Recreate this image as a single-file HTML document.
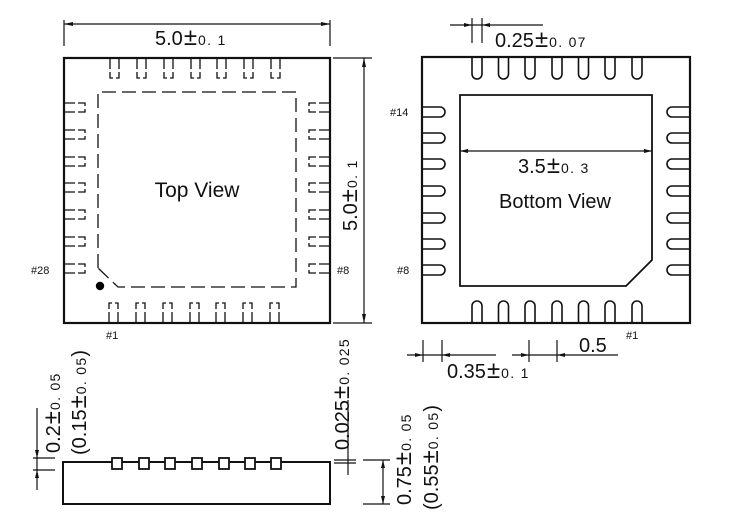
<!DOCTYPE html>
<html><head><meta charset="utf-8"><style>
html,body{margin:0;padding:0;background:#fff;}
svg{display:block;}
text{font-family:"Liberation Sans",sans-serif;fill:#111;}
.pm{font-size:24px;}
.s{font-size:14px;letter-spacing:1.3px;}
</style></head><body>
<svg width="750" height="521" viewBox="0 0 750 521" xmlns="http://www.w3.org/2000/svg">
<defs>
<g id="tpad"><path d="M0,0 V10 M9,0 V10 M0,13 V19 H3 M9,13 V19 H6" fill="none" stroke="#111" stroke-width="1.3"/></g>
<g id="bpad"><path d="M0,19 V9 M9,19 V9 M0,6 V0 H3 M9,6 V0 H6" fill="none" stroke="#111" stroke-width="1.3"/></g>
<g id="lpad"><path d="M0,0 H10 M0,9 H10 M13,0 H20 V3 M13,9 H20 V6" fill="none" stroke="#111" stroke-width="1.3"/></g>
<g id="rpad"><path d="M20,0 H10 M20,9 H10 M7,0 H0 V3 M7,9 H0 V6" fill="none" stroke="#111" stroke-width="1.3"/></g>
<path id="uT" d="M-5,0 V16 A5,5 0 0 0 5,16 V0" fill="none" stroke="#111" stroke-width="1.6"/>
<path id="uB" d="M-5,0 V-16 A5,5 0 0 1 5,-16 V0" fill="none" stroke="#111" stroke-width="1.6"/>
<path id="uL" d="M0,-5 H17 A5,5 0 0 1 17,5 H0" fill="none" stroke="#111" stroke-width="1.6"/>
<path id="uR" d="M0,-5 H-17 A5,5 0 0 0 -17,5 H0" fill="none" stroke="#111" stroke-width="1.6"/>
</defs>

<!-- TOP VIEW -->
<rect x="64" y="58" width="266" height="265" fill="none" stroke="#111" stroke-width="2.2"/>
<g>
<use href="#tpad" x="110" y="59"/><use href="#tpad" x="137" y="59"/><use href="#tpad" x="164" y="59"/><use href="#tpad" x="191" y="59"/><use href="#tpad" x="217" y="59"/><use href="#tpad" x="244" y="59"/><use href="#tpad" x="271" y="59"/>
<use href="#bpad" x="109" y="303"/><use href="#bpad" x="136" y="303"/><use href="#bpad" x="163" y="303"/><use href="#bpad" x="190" y="303"/><use href="#bpad" x="216" y="303"/><use href="#bpad" x="243" y="303"/><use href="#bpad" x="270" y="303"/>
<use href="#lpad" x="65" y="103"/><use href="#lpad" x="65" y="130"/><use href="#lpad" x="65" y="157"/><use href="#lpad" x="65" y="183"/><use href="#lpad" x="65" y="210"/><use href="#lpad" x="65" y="237"/><use href="#lpad" x="65" y="264"/>
<use href="#rpad" x="309" y="103"/><use href="#rpad" x="309" y="130"/><use href="#rpad" x="309" y="157"/><use href="#rpad" x="309" y="183"/><use href="#rpad" x="309" y="210"/><use href="#rpad" x="309" y="237"/><use href="#rpad" x="309" y="264"/>
</g>
<path d="M98,268 V92 H296 V287 H118 L98,268" fill="none" stroke="#111" stroke-width="1.3" stroke-dasharray="14,6"/>
<circle cx="100" cy="286" r="4.2" fill="#000"/>
<text x="197" y="197" font-size="21" text-anchor="middle">Top View</text>
<text x="31" y="274" font-size="11">#28</text>
<text x="337" y="274" font-size="11">#8</text>
<text x="106" y="339" font-size="11">#1</text>
<!-- top dim -->
<path d="M64,20 V46 M330,20 V46 M64,24 H330" stroke="#111" stroke-width="1.2" fill="none"/>
<path d="M64,24 l9,-2 v4z M330,24 l-9,-2 v4z" fill="#111"/>
<text x="155" y="45" font-size="20">5.0<tspan class="pm" dx="1">±</tspan><tspan class="s" dx="1">0. 1</tspan></text>
<!-- right dim -->
<path d="M333,58 H372 M333,323 H372 M364,58 V323" stroke="#111" stroke-width="1.2" fill="none"/>
<path d="M364,58 l-2,9 h4z M364,323 l-2,-9 h4z" fill="#111"/>
<text transform="translate(357,231) rotate(-90)" font-size="20">5.0<tspan class="pm" dx="1">±</tspan><tspan class="s" dx="1">0. 1</tspan></text>

<!-- BOTTOM VIEW -->
<rect x="422" y="57" width="268" height="266" fill="none" stroke="#111" stroke-width="2.2"/>
<path d="M460,95 H652 V260 L626,286 H460 Z" fill="none" stroke="#111" stroke-width="1.8"/>
<path d="M460,151 H652" stroke="#111" stroke-width="1.2"/>
<path d="M460,151 l8,-2 v4z M652,151 l-8,-2 v4z" fill="#111"/>
<text x="518" y="173" font-size="20">3.5<tspan class="pm" dx="1">±</tspan><tspan class="s" dx="1">0. 3</tspan></text>
<text x="555" y="208" font-size="20" text-anchor="middle">Bottom View</text>
<g>
<use href="#uT" x="477" y="58"/><use href="#uT" x="503.5" y="58"/><use href="#uT" x="530" y="58"/><use href="#uT" x="557" y="58"/><use href="#uT" x="583.5" y="58"/><use href="#uT" x="610" y="58"/><use href="#uT" x="637" y="58"/>
<use href="#uB" x="477" y="322"/><use href="#uB" x="503.5" y="322"/><use href="#uB" x="530" y="322"/><use href="#uB" x="557" y="322"/><use href="#uB" x="583.5" y="322"/><use href="#uB" x="610" y="322"/><use href="#uB" x="637" y="322"/>
<use href="#uL" x="423" y="112"/><use href="#uL" x="423" y="138"/><use href="#uL" x="423" y="164"/><use href="#uL" x="423" y="191"/><use href="#uL" x="423" y="218"/><use href="#uL" x="423" y="244"/><use href="#uL" x="423" y="270"/>
<use href="#uR" x="689" y="112"/><use href="#uR" x="689" y="138"/><use href="#uR" x="689" y="164"/><use href="#uR" x="689" y="191"/><use href="#uR" x="689" y="218"/><use href="#uR" x="689" y="244"/><use href="#uR" x="689" y="270"/>
</g>
<text x="390" y="116" font-size="11">#14</text>
<text x="397" y="274" font-size="11">#8</text>
<text x="626" y="339" font-size="11">#1</text>
<!-- 0.25 dim -->
<path d="M450,25 H543 M472,18 V43 M482,18 V43" stroke="#111" stroke-width="1.2" fill="none"/>
<path d="M472,25 l-8,-2 v4z M482,25 l8,-2 v4z" fill="#111"/>
<text x="495" y="47" font-size="20">0.25<tspan class="pm" dx="1">±</tspan><tspan class="s" dx="1">0. 07</tspan></text>
<!-- 0.35 dim -->
<path d="M407,355 H496 M423,340 V362 M442,340 V362" stroke="#111" stroke-width="1.2" fill="none"/>
<path d="M423,355 l-8,-2 v4z M442,355 l8,-2 v4z" fill="#111"/>
<text x="447" y="378" font-size="20">0.35<tspan class="pm" dx="1">±</tspan><tspan class="s" dx="1">0. 1</tspan></text>
<!-- 0.5 dim -->
<path d="M512,355 H618 M529,340 V362 M557,340 V362" stroke="#111" stroke-width="1.2" fill="none"/>
<path d="M529,355 l-8,-2 v4z M557,355 l8,-2 v4z" fill="#111"/>
<text x="579" y="352" font-size="20">0.5</text>

<!-- SIDE VIEW -->
<rect x="63" y="462" width="267" height="42" fill="none" stroke="#111" stroke-width="2"/>
<g fill="#fff" stroke="#111" stroke-width="1.8">
<rect x="112" y="458" width="10" height="11"/><rect x="139" y="458" width="10" height="11"/><rect x="165" y="458" width="10" height="11"/><rect x="192" y="458" width="10" height="11"/><rect x="219" y="458" width="10" height="11"/><rect x="245" y="458" width="10" height="11"/><rect x="271" y="458" width="10" height="11"/>
</g>
<!-- left dim -->
<path d="M37,408 V490 M33,458 H55 M33,470 H55" stroke="#111" stroke-width="1.2" fill="none"/>
<path d="M37,458 l-2,-8 h4z M37,470 l-2,8 h4z" fill="#111"/>
<text transform="translate(60,453) rotate(-90)" font-size="20">0.2<tspan class="pm" dx="1">±</tspan><tspan class="s" dx="1">0. 05</tspan></text>
<text transform="translate(86,455) rotate(-90)" font-size="20">(0.15<tspan class="pm" dx="1">±</tspan><tspan class="s" dx="1">0. 05</tspan>)</text>
<!-- 0.025 -->
<path d="M348,400 V475 M334,460 H356 M334,463 H356" stroke="#111" stroke-width="1.2" fill="none"/>
<text transform="translate(349,450) rotate(-90)" font-size="20">0.025<tspan class="pm" dx="1">±</tspan><tspan class="s" dx="1">0. 025</tspan></text>
<!-- 0.75 -->
<path d="M363,460 H390 M363,504 H390 M383,460 V504" stroke="#111" stroke-width="1.2" fill="none"/>
<path d="M383,460 l-2,8 h4z M383,504 l-2,-8 h4z" fill="#111"/>
<text transform="translate(411,505) rotate(-90)" font-size="20">0.75<tspan class="pm" dx="1">±</tspan><tspan class="s" dx="1">0. 05</tspan></text>
<text transform="translate(438,510) rotate(-90)" font-size="20">(0.55<tspan class="pm" dx="1">±</tspan><tspan class="s" dx="1">0. 05</tspan>)</text>
</svg>
</body></html>
